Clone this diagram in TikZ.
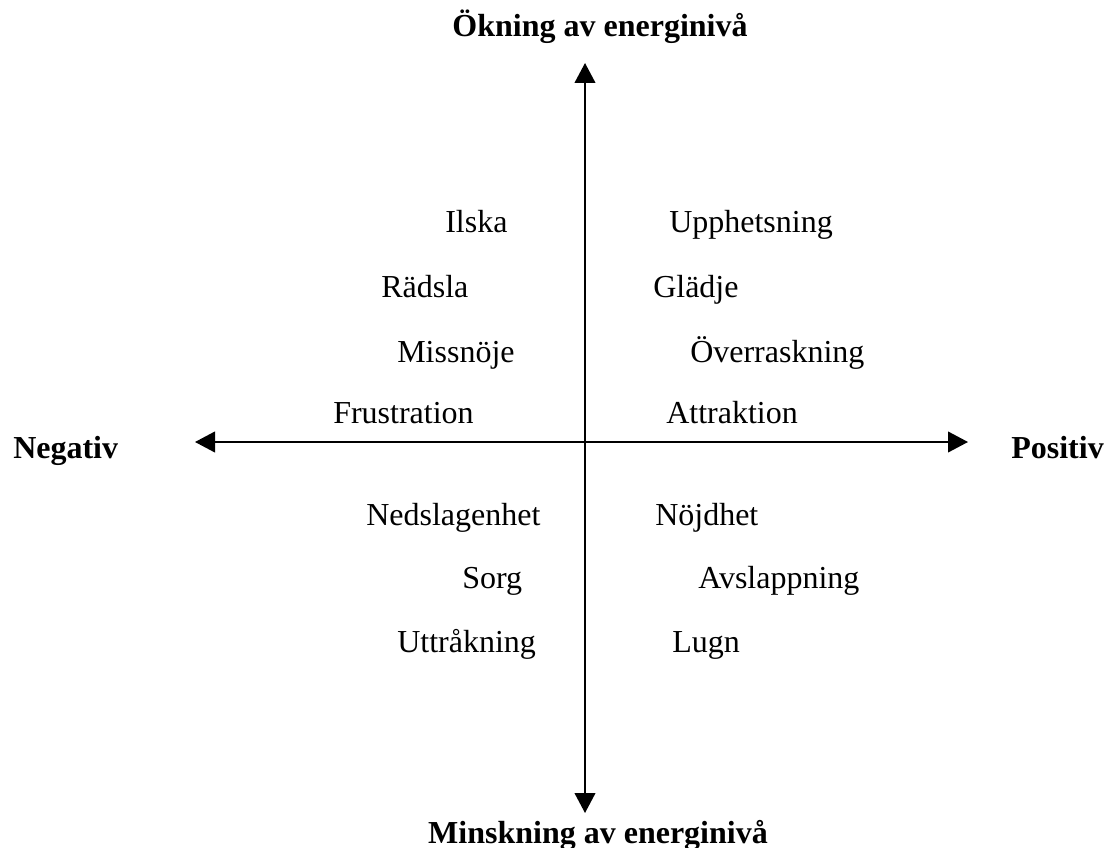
\documentclass[tikz,border=0pt]{standalone}
\usepackage{fontspec}
\setmainfont{Liberation Serif}
\usepackage{tikz}
\usetikzlibrary{positioning, arrows.meta}

\begin{document}
\begin{tikzpicture}[x=0.75pt, y=-0.75pt, >={Triangle[length=15pt, width=15.5pt]},
    emo/.style={anchor=base west, inner sep=0pt, font=\fontsize{24}{28}\selectfont},
    axlabel/.style={anchor=base, inner sep=0pt, font=\fontsize{24}{28}\selectfont\bfseries}]

    \useasboundingbox (0,0) rectangle (1109,848);

    % Axlarnas ändpunkter
    \coordinate (top) at (585,63);
    \coordinate (bottom) at (585,813);
    \coordinate (left) at (195,442);
    \coordinate (right) at (968,442);

    % Axlar
    \draw[<->, line width=1.5pt] (bottom) -- (top);
    \draw[<->, line width=1.5pt] (left) -- (right);

    % Axelrubriker
    \node[axlabel] (up) at (600,37) {Ökning av energinivå};
    \node[axlabel] (down) at (598,843) {Minskning av energinivå};
    \node[axlabel, anchor=base west] (neg) at (13,458) {Negativ};
    \node[axlabel, anchor=base east] (pos) at (1104,458) {Positiv};

    % Övre vänstra kvadranten
    \node[emo] (ilska) at (445,233) {Ilska};
    \node[emo] (radsla) at (381,298) {Rädsla};
    \node[emo] (missnoje) at (397,362) {Missnöje};
    \node[emo] (frustration) at (333,423) {Frustration};

    % Övre högra kvadranten
    \node[emo] (upphetsning) at (669,233) {Upphetsning};
    \node[emo] (gladje) at (653,298) {Glädje};
    \node[emo] (overraskning) at (690,362) {Överraskning};
    \node[emo] (attraktion) at (666,423) {Attraktion};

    % Nedre vänstra kvadranten
    \node[emo] (nedslagenhet) at (366,525) {Nedslagenhet};
    \node[emo] (sorg) at (462,588) {Sorg};
    \node[emo] (uttrakning) at (397,652) {Uttråkning};

    % Nedre högra kvadranten
    \node[emo] (nojdhet) at (655,525) {Nöjdhet};
    \node[emo] (avslappning) at (698,588) {Avslappning};
    \node[emo] (lugn) at (672,652) {Lugn};
\end{tikzpicture}
\end{document}
